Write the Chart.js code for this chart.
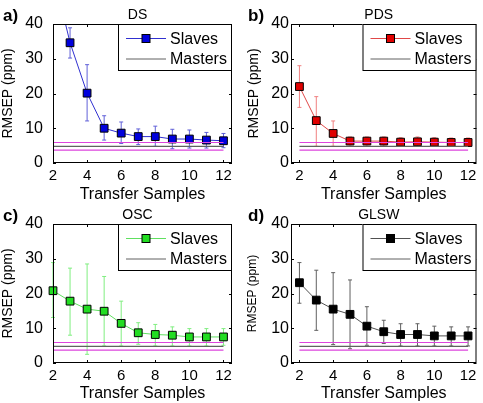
<!DOCTYPE html>
<html>
<head>
<meta charset="utf-8">
<script src="https://cdn.jsdelivr.net/npm/chart.js@4.4.0/dist/chart.umd.min.js"></script>
<style>
	body { margin: 0; background: #fff; width: 483px; height: 403px; position: relative; overflow: hidden; }
	canvas { position: absolute; }
</style>
</head>
<body>
<canvas id="chart-ds"></canvas>
<canvas id="chart-pds"></canvas>
<canvas id="chart-osc"></canvas>
<canvas id="chart-glsw"></canvas>
<script>
const transferSamples = [2, 3, 4, 5, 6, 7, 8, 9, 10, 11, 12];
const xTicks = [2, 4, 6, 8, 10, 12];
const yTicks = [0, 10, 20, 30, 40];

const dsRmsep = [55, 34.6, 20.1, 10.0, 8.6, 7.6, 7.6, 6.9, 6.9, 6.6, 6.4];
const dsHigh = [70, 38.9, 28.3, 13.6, 11.8, 9.8, 10.6, 9.7, 9.5, 8.8, 8.5];
const dsLow = [45, 30.2, 12.1, 6.6, 5.6, 5.3, 4.8, 4.1, 4.3, 4.3, 4.4];

const pdsRmsep = [22.0, 12.2, 8.5, 6.3, 6.3, 6.3, 6.0, 6.1, 6.0, 5.9, 5.9];
const pdsHigh = [28.0, 19.1, 12.1, 7.5, 7.5, 7.5, 7.3, 7.5, 7.3, 7.2, 7.2];
const pdsLow = [16.0, 4.8, 4.8, 4.8, 4.8, 4.8, 4.8, 4.8, 4.8, 4.8, 4.8];

const oscRmsep = [20.8, 17.8, 15.5, 14.9, 11.4, 8.7, 8.2, 8.0, 7.5, 7.5, 7.5];
const oscHigh = [28.9, 27.3, 28.5, 24.9, 17.8, 11.6, 11.1, 10.4, 9.9, 9.9, 9.9];
const oscLow = [13.1, 8.0, 2.5, 4.9, 4.9, 5.4, 4.9, 4.9, 4.9, 4.9, 5.1];

const glswRmsep = [23.1, 18.1, 15.5, 14.0, 10.6, 9.0, 8.2, 8.2, 7.8, 7.8, 7.8];
const glswHigh = [28.9, 26.7, 26.0, 23.9, 16.2, 12.3, 11.3, 11.3, 10.6, 10.4, 10.4];
const glswLow = [17.2, 9.4, 5.3, 4.1, 5.1, 5.6, 4.9, 4.9, 4.9, 4.9, 4.9];

// masters reference: mean and +/- band, drawn from x=2 to x=12
const mastersX = [2, 12];
const mastersMean = 4.8;
const mastersUpper = 5.9;
const mastersLower = 3.7;

const FONT = "'Liberation Sans', Arial, sans-serif";

const errorBars = {
	id: 'errorBars',
	beforeDatasetsDraw(chart, args, opts) {
		const { ctx, chartArea } = chart;
		const x = chart.scales.x, y = chart.scales.y;
		ctx.save();
		ctx.beginPath();
		// clip at the top only, markers on the frame stay visible like in matlab
		ctx.rect(chartArea.left - 8, chartArea.top, chartArea.width + 16, chartArea.height + 8);
		ctx.clip();
		ctx.strokeStyle = opts.color;
		ctx.lineWidth = 1;
		transferSamples.forEach((s, i) => {
			const px = x.getPixelForValue(s);
			const top = y.getPixelForValue(opts.high[i]);
			const bot = y.getPixelForValue(opts.low[i]);
			ctx.beginPath();
			ctx.moveTo(px, top); ctx.lineTo(px, bot);
			ctx.moveTo(px - 2, top); ctx.lineTo(px + 2, top);
			ctx.moveTo(px - 2, bot); ctx.lineTo(px + 2, bot);
			ctx.stroke();
		});
		ctx.restore();
	},
};

const decorations = {
	id: 'decorations',
	afterDraw(chart, args, opts) {
		const { ctx, chartArea: a } = chart;
		const x = chart.scales.x, y = chart.scales.y;
		ctx.save();
		// axes box + inward ticks
		ctx.strokeStyle = '#000';
		ctx.lineWidth = 1;
		ctx.strokeRect(a.left + 0.5, a.top + 0.5, a.width - 1, a.height - 1);
		ctx.beginPath();
		xTicks.forEach((v) => {
			const px = Math.round(x.getPixelForValue(v)) + 0.5;
			ctx.moveTo(px, a.bottom); ctx.lineTo(px, a.bottom - 3);
			ctx.moveTo(px, a.top); ctx.lineTo(px, a.top + 3);
		});
		yTicks.forEach((v) => {
			const py = Math.round(y.getPixelForValue(v)) + 0.5;
			ctx.moveTo(a.left, py); ctx.lineTo(a.left + 3, py);
			ctx.moveTo(a.right, py); ctx.lineTo(a.right - 3, py);
		});
		ctx.stroke();

		// title and panel letter
		ctx.fillStyle = '#000';
		ctx.textBaseline = 'middle';
		ctx.textAlign = 'center';
		ctx.font = '14px ' + FONT;
		ctx.fillText(opts.title, (a.left + a.right) / 2 - 5, 15);
		ctx.textAlign = 'left';
		ctx.font = 'bold 17px ' + FONT;
		ctx.fillText(opts.letter, opts.letterX, 16);

		// legend box in the top right corner
		const bw = 114, bh = 47;
		const bx = a.right - bw, by = a.top;
		ctx.fillStyle = '#fff';
		ctx.fillRect(bx, by, bw, bh);
		ctx.strokeRect(bx + 0.5, by + 0.5, bw - 1, bh - 1);
		const r1 = by + 14.5, r2 = by + 35;
		ctx.strokeStyle = opts.line;
		ctx.beginPath(); ctx.moveTo(bx + 8, r1); ctx.lineTo(bx + 48, r1); ctx.stroke();
		ctx.fillStyle = opts.marker;
		ctx.fillRect(bx + 24, r1 - 4, 8, 8);
		ctx.strokeStyle = '#000';
		ctx.strokeRect(bx + 24, r1 - 4, 8, 8);
		ctx.strokeStyle = '#606060';
		ctx.beginPath(); ctx.moveTo(bx + 8, r2); ctx.lineTo(bx + 48, r2); ctx.stroke();
		ctx.fillStyle = '#000';
		ctx.font = '16px ' + FONT;
		ctx.fillText('Slaves', bx + 52, r1 + 1);
		ctx.fillText('Masters', bx + 52, r2 + 1);
		ctx.restore();
	},
};

function flat(v) {
	return mastersX.map((x) => ({ x, y: v }));
}

function makePanel(id, p) {
	const canvas = document.getElementById(id);
	canvas.width = p.w;
	canvas.height = p.h;
	canvas.style.left = p.left + 'px';
	canvas.style.top = p.top + 'px';
	const area = p.area;
	const masterStyle = { borderWidth: 1.2, pointRadius: 0, fill: false };
	new Chart(canvas, {
		type: 'line',
		data: {
			datasets: [
				{ ...masterStyle, label: 'upper', data: flat(mastersUpper), borderColor: '#dd44dd' },
				{ ...masterStyle, label: 'Masters', data: flat(mastersMean), borderColor: '#606060' },
				{ ...masterStyle, label: 'lower', data: flat(mastersLower), borderColor: '#dd44dd' },
				{
					label: 'Slaves',
					data: transferSamples.map((x, i) => ({ x, y: p.values[i] })),
					borderColor: p.line,
					borderWidth: 1,
					backgroundColor: p.marker,
					pointBackgroundColor: p.marker,
					pointBorderColor: '#000',
					pointBorderWidth: 1,
					pointStyle: 'rect',
					pointRadius: 5.5,
					tension: 0,
					clip: { left: 8, right: 8, top: 0, bottom: 8 },
				},
			],
		},
		options: {
			responsive: false,
			animation: false,
			events: [],
			layout: { padding: { left: 0, right: p.w - area.right, top: area.top, bottom: 0 } },
			scales: {
				x: {
					type: 'linear',
					min: p.xMin,
					max: 12.5,
					grid: { display: false, drawTicks: false },
					border: { display: false },
					afterBuildTicks: (s) => { s.ticks = xTicks.map((v) => ({ value: v })); },
					afterFit: (s) => { s.height = p.h - area.bottom; },
					ticks: { color: '#000', padding: 4, font: { family: FONT, size: 15 } },
					title: {
						display: true,
						text: 'Transfer Samples',
						color: '#000',
						padding: { top: 0, bottom: p.xTitlePad },
						font: { family: FONT, size: 16 },
					},
				},
				y: {
					type: 'linear',
					min: 0,
					max: 40,
					grid: { display: false, drawTicks: false },
					border: { display: false },
					afterBuildTicks: (s) => { s.ticks = yTicks.map((v) => ({ value: v })); },
					afterFit: (s) => { s.width = area.left; },
					ticks: { color: '#000', padding: p.yTickPad, font: { family: FONT, size: 16 } },
					title: {
						display: true,
						text: 'RMSEP (ppm)',
						color: '#000',
						padding: { top: p.yTitlePad, bottom: 0 },
						font: { family: FONT, size: p.yTitleSize },
					},
				},
			},
			plugins: {
				legend: { display: false },
				tooltip: { enabled: false },
				errorBars: { high: p.high, low: p.low, color: p.err },
				decorations: { title: p.title, letter: p.letter, letterX: p.letterX, line: p.line, marker: p.marker },
			},
		},
		plugins: [errorBars, decorations],
	});
}

const leftArea = { left: 53, right: 232, top: 24, bottom: 163 };
const rightArea = { left: 51, right: 239, top: 24, bottom: 163 };

makePanel('chart-ds', {
	left: 0, top: 0, w: 240, h: 205, area: leftArea, xMin: 2,
	values: dsRmsep, high: dsHigh, low: dsLow,
	line: '#3030d0', marker: '#0000dd', err: '#6060d8',
	title: 'DS', letter: 'a)', letterX: 3,
	yTickPad: 10, yTitlePad: 0, yTitleSize: 14, xTitlePad: 1,
});
makePanel('chart-pds', {
	left: 240, top: 0, w: 243, h: 205, area: rightArea, xMin: 1.5,
	values: pdsRmsep, high: pdsHigh, low: pdsLow,
	line: '#e04848', marker: '#e00000', err: '#f08080',
	title: 'PDS', letter: 'b)', letterX: 8,
	yTickPad: 2, yTitlePad: 6, yTitleSize: 14, xTitlePad: 1,
});
makePanel('chart-osc', {
	left: 0, top: 200, w: 240, h: 203, area: leftArea, xMin: 2,
	values: oscRmsep, high: oscHigh, low: oscLow,
	line: '#60e060', marker: '#22dd22', err: '#80ee80',
	title: 'OSC', letter: 'c)', letterX: 3,
	yTickPad: 10, yTitlePad: 0, yTitleSize: 14, xTitlePad: 0,
});
makePanel('chart-glsw', {
	left: 240, top: 200, w: 243, h: 203, area: rightArea, xMin: 1.5,
	values: glswRmsep, high: glswHigh, low: glswLow,
	line: '#505050', marker: '#000000', err: '#606060',
	title: 'GLSW', letter: 'd)', letterX: 8,
	yTickPad: 2, yTitlePad: 5, yTitleSize: 12, xTitlePad: 0,
});
</script>
</body>
</html>
